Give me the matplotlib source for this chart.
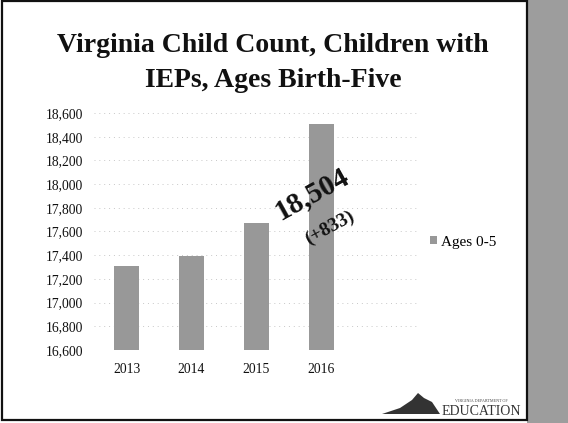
import matplotlib
matplotlib.use("Agg")
import matplotlib.pyplot as plt
from matplotlib.patches import Rectangle, Polygon
from matplotlib.ticker import FuncFormatter, MultipleLocator

# ===== data =====
years = ["2013", "2014", "2015", "2016"]
children = [17310, 17390, 17671, 18504]
series_name = "Ages 0-5"
callout_total = "18,504"
callout_change = "(+833)"

W, H = 568, 423
plt.rcParams["font.family"] = ["Liberation Serif", "DejaVu Serif"]

fig = plt.figure(figsize=(W / 100, H / 100), dpi=100)
fig.patch.set_facecolor("white")

# slide frame + grey strip on the right
fig.patches.append(Rectangle((527 / W, 0), 41 / W, 1, transform=fig.transFigure,
                             facecolor="#9d9d9d", edgecolor="none", zorder=0))
fig.patches.append(Rectangle((2 / W, 3 / H), 525 / W, (H - 4) / H, transform=fig.transFigure,
                             facecolor="none", edgecolor="#111111", linewidth=1.6, zorder=5))

# ===== title =====
fig.text(273 / W, 1 - 52 / H, "Virginia Child Count, Children with", ha="center", va="baseline",
         fontsize=20, fontweight="bold", color="#111111")
fig.text(273 / W, 1 - 87 / H, "IEPs, Ages Birth-Five", ha="center", va="baseline",
         fontsize=20, fontweight="bold", color="#111111")

# ===== chart =====
ax = fig.add_axes([94 / W, 1 - 350 / H, 325 / W, 237 / H])
ax.set_facecolor("none")
x = list(range(len(years)))
ax.bar(x, children, width=0.385, color="#989898", label=series_name, zorder=2)

ax.set_xlim(-0.5, 4.5)
ax.set_ylim(16600, 18600)
ax.yaxis.set_major_locator(MultipleLocator(200))
ax.yaxis.set_major_formatter(FuncFormatter(lambda v, p: f"{int(v):,}"))
ax.set_xticks(x)
ax.set_xticklabels(years)
ax.tick_params(axis="both", length=0, labelsize=9.8, colors="#111111")
ax.tick_params(axis="y", pad=8)
ax.tick_params(axis="x", pad=9)
for s in ax.spines.values():
    s.set_visible(False)
ax.grid(axis="y", color="#c8c8c8", linestyle=(0, (1, 4)), linewidth=0.7, zorder=0)

# callout
ax.text(3 - 0.15, 17920, callout_total, rotation=29, ha="center", va="center",
        fontsize=21, fontweight="bold", color="#111111", zorder=4)
ax.text(3 + 0.13, 17630, callout_change, rotation=28, ha="center", va="center",
        fontsize=14, fontweight="bold", color="#111111", zorder=4)

ax.legend(loc="center left", bbox_to_anchor=(430 / W, 1 - 242 / H), bbox_transform=fig.transFigure,
          frameon=False, fontsize=11, handlelength=0.45, handleheight=0.45, handletextpad=0.3,
          borderpad=0, borderaxespad=0)

# ===== logo =====
fig.patches.append(Polygon([(382 / W, 1 - 414 / H), (400 / W, 1 - 408 / H), (412 / W, 1 - 400 / H),
                            (418 / W, 1 - 393 / H), (424 / W, 1 - 398 / H), (432 / W, 1 - 402 / H),
                            (440 / W, 1 - 414 / H)],
                           closed=True, transform=fig.transFigure, facecolor="#333333",
                           edgecolor="none"))
fig.text(481 / W, 1 - 401 / H, "VIRGINIA DEPARTMENT OF", ha="center", va="center",
         fontsize=3, color="#444444")
fig.text(481 / W, 1 - 411 / H, "EDUCATION", ha="center", va="center",
         fontsize=10, color="#333333")

plt.savefig("out.png", dpi=100)
plt.close()
